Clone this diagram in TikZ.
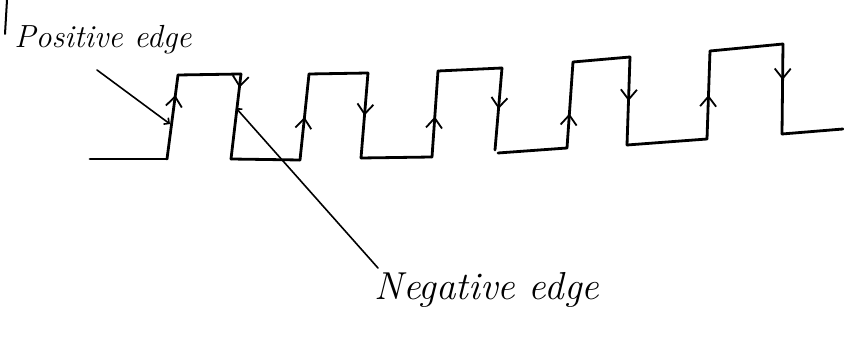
\documentclass[tikz,border=0pt]{standalone}
\usetikzlibrary{arrows.meta,decorations.markings}
\begin{document}
\begin{tikzpicture}[x=1pt,y=-1pt,
  wave/.style={line width=2.8pt, line cap=round, line join=round},
  chev/.style={wave, postaction={decorate}, decoration={markings,
     mark=at position #1 with {\arrow{Straight Barb[length=10pt,width=16pt,line width=1.8pt]}}}},
  pointer/.style={line width=1.6pt, line cap=round},
  lbl/.style={inner sep=0pt, font=\itshape}]
\useasboundingbox (0,0) rectangle (844,347);
% corner coordinates
\coordinate (p0) at (90,159);
\coordinate (p1) at (167,159);
\coordinate (p2) at (178,75);
\coordinate (p3) at (241,74);
\coordinate (p4) at (231,159);
\coordinate (p5) at (300,160);
\coordinate (p6) at (309,74);
\coordinate (p7) at (368,73);
\coordinate (p8) at (361,158);
\coordinate (p9) at (432,157);
\coordinate (p10) at (438,71);
\coordinate (p11) at (502,68);
\coordinate (p12) at (495,150);
\coordinate (p13) at (498,153);
\coordinate (p14) at (567,148);
\coordinate (p15) at (573,62);
\coordinate (p16) at (630,57);
\coordinate (p17) at (627,145);
\coordinate (p18) at (707,139);
\coordinate (p19) at (710,51);
\coordinate (p20) at (783,44);
\coordinate (p21) at (782,134);
\coordinate (p22) at (843,129);
% waveform
\draw[wave] (p0) -- (p1);
\draw[chev=0.76] (p1) -- (p2);
\draw[wave] (p2) -- (p3);
\draw[chev=0.16] (p3) -- (p4);
\draw[wave] (p4) -- (p5);
\draw[chev=0.5] (p5) -- (p6);
\draw[wave] (p6) -- (p7);
\draw[chev=0.5] (p7) -- (p8);
\draw[wave] (p8) -- (p9);
\draw[chev=0.47] (p9) -- (p10);
\draw[wave] (p10) -- (p11);
\draw[chev=0.5] (p11) -- (p12);
\draw[wave] (p13) -- (p14);
\draw[chev=0.4] (p14) -- (p15);
\draw[chev=0.5] (p16) -- (p17);
\draw[wave] (p15) -- (p16);
\draw[wave] (p17) -- (p18);
\draw[chev=0.5] (p18) -- (p19);
\draw[wave] (p19) -- (p20);
\draw[chev=0.4] (p20) -- (p21);
\draw[wave] (p21) -- (p22);
% margin stroke
\coordinate (m0) at (7,0);
\coordinate (m1) at (5,34);
\draw[pointer,line width=2pt] (m0) -- (m1);
% labels
\node[lbl, font=\itshape\fontsize{32}{32}\selectfont] (pos) at (103,40) {Positive edge};
\node[lbl, font=\itshape\fontsize{39}{39}\selectfont] (neg) at (487,290) {Negative edge};
\coordinate (posstart) at (97,70);
\coordinate (posend) at (170,124);
\coordinate (negstart) at (378,268);
\coordinate (negend) at (236,108);
\draw[pointer,-{Straight Barb[length=4pt,width=8pt]}] (posstart) -- (posend);
\draw[pointer,-{Straight Barb[length=4pt,width=8pt]}] (negstart) -- (negend);
\end{tikzpicture}
\end{document}
